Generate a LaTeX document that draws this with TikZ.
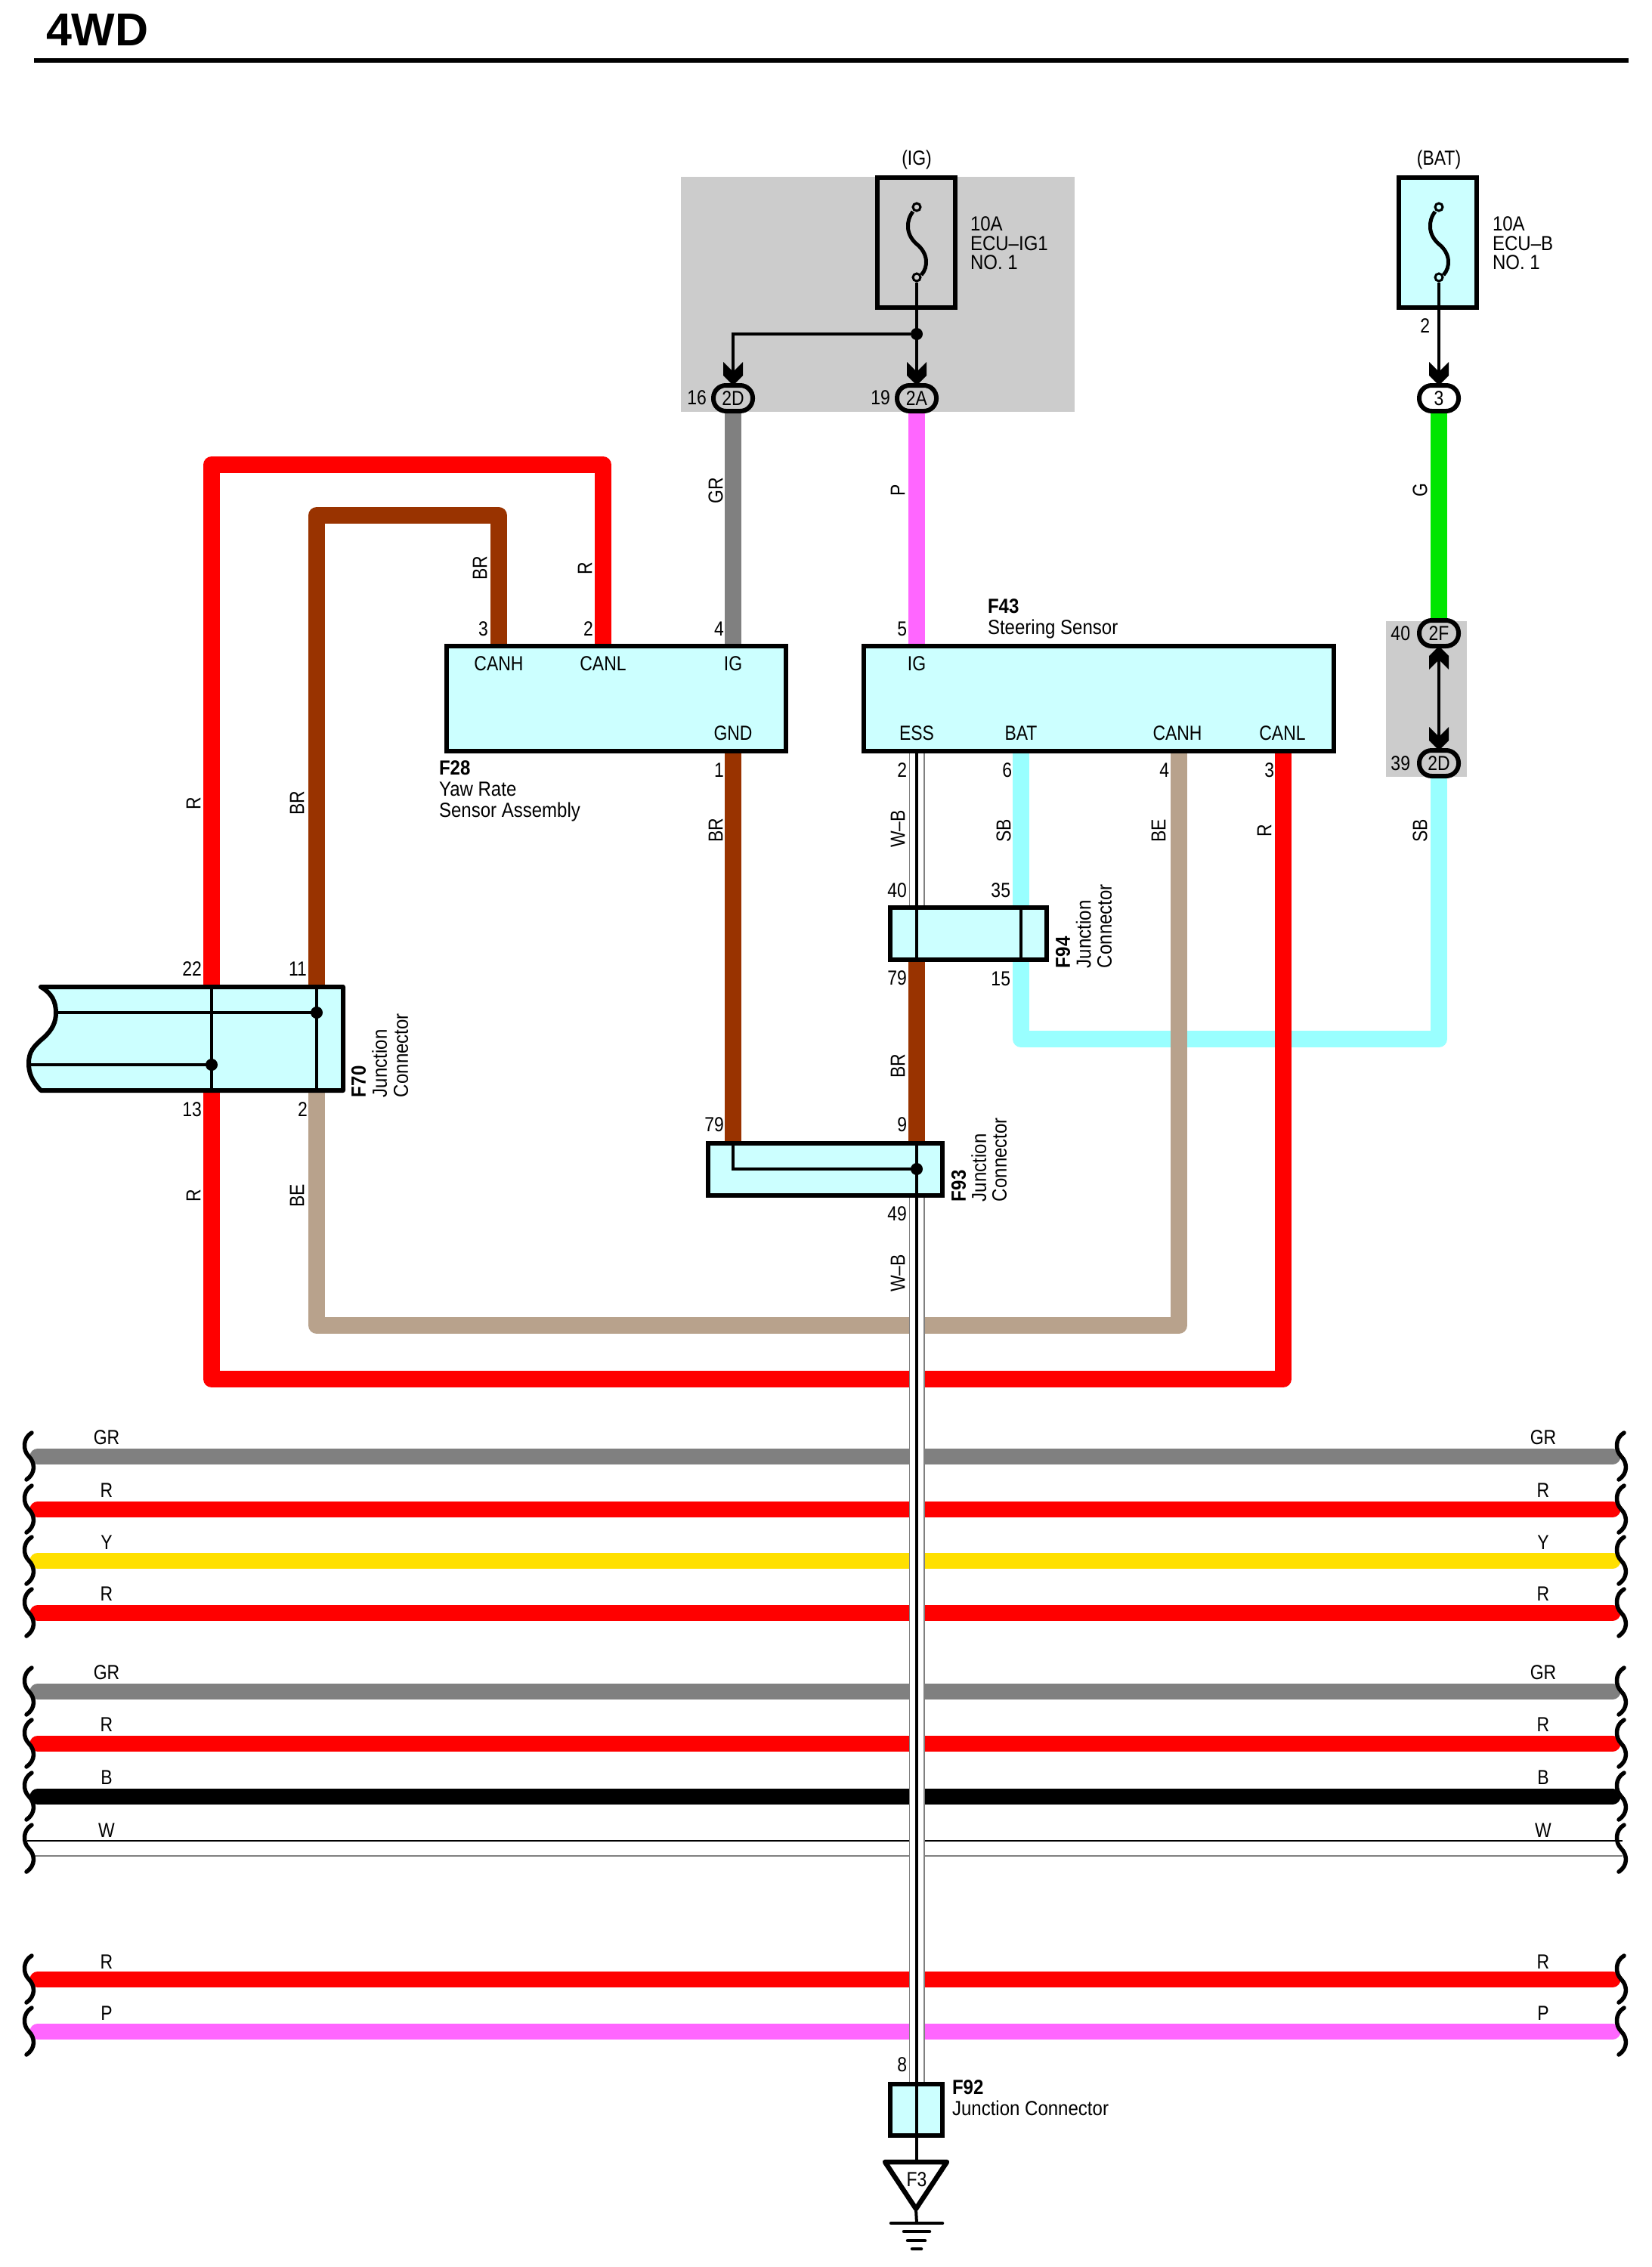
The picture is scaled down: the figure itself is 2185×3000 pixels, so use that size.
\documentclass[tikz,border=0pt]{standalone}
\usepackage{fontspec}
\setmainfont[FakeStretch=0.85]{Liberation Sans}
\newfontfamily\widef[FakeStretch=0.89]{Liberation Sans}
\newfontfamily\titlef{Liberation Sans}
\pgfdeclarelayer{bgl}\pgfdeclarelayer{wires}\pgfdeclarelayer{wb}
\pgfsetlayers{bgl,wires,wb,main}
\definecolor{wred}{HTML}{FF0000}
\definecolor{wbrn}{HTML}{993300}
\definecolor{wgry}{HTML}{808080}
\definecolor{wpnk}{HTML}{FF66FF}
\definecolor{wgrn}{HTML}{00E600}
\definecolor{wsky}{HTML}{99FFFF}
\definecolor{wyel}{HTML}{FFE000}
\definecolor{wtan}{HTML}{B8A28C}
\definecolor{wblk}{HTML}{000000}
\definecolor{boxc}{HTML}{CCFFFF}
\definecolor{greyb}{HTML}{CCCCCC}
\tikzset{
 txt/.style={font=\fontsize{27}{27}\selectfont,inner sep=0pt,outer sep=0pt},
 num/.style={txt,anchor=east},
 lab/.style={txt,rotate=90},
 multi/.style={txt,align=left,anchor=north west},
 comp/.style={txt,draw,line width=6pt,fill=boxc,rectangle,anchor=north west,inner sep=0pt},
 oval/.style={txt,draw,line width=6pt,fill=#1,rectangle,rounded corners=16.5pt,minimum width=52pt,minimum height=34pt},
 wire/.style={line width=22pt,line join=round},
 thin/.style={line width=4pt},
 dotj/.style={fill=black,circle,inner sep=0pt,minimum size=16pt},
 hollow/.style={draw,line width=3pt,circle,inner sep=0pt,minimum size=10pt},
 chev/.pic={\fill (-13,-31) -- (0,-18) -- (13,-31) -- (13,-13) -- (0,0) -- (-13,-13) -- cycle;},
 curly/.pic={\draw[line width=5.5pt,line cap=round] (4,-31) .. controls (-8,-24) and (-8,-8) .. (0,0) .. controls (9,9) and (9,23) .. (-3,31);},
 fusewire/.pic={\draw[line width=5pt] (-5,-41) .. controls (-15,-28) and (-14,-10) .. (0,2) .. controls (15,14) and (16,32) .. (6,43);}
}
\begin{document}
\begin{tikzpicture}[x=1pt,y=-1pt]
\useasboundingbox (0,0) rectangle (2185,3000);
% grey areas
\begin{pgfonlayer}{bgl}
\fill[white] (0,0) rectangle (2185,3000);
\fill[greyb] (901,234) rectangle (1422,545);
\fill[greyb] (1834,822) rectangle (1941,1028);
\end{pgfonlayer}
% title
\node[txt,anchor=west,font=\fontsize{61}{61}\titlef\bfseries] (title) at (61,40) {4WD};
\coordinate (rl) at (45,80); \coordinate (rr) at (2155,80);
\draw[line width=6pt] (rl) -- (rr);
% fuses
\node[comp,fill=none,minimum width=103pt,minimum height=172pt] (fig) at (1161,235) {};
\node[comp,minimum width=103pt,minimum height=172pt] (fbat) at (1851,235) {};
\node[txt] (tig) at (1213,212) {(IG)};
\node[txt] (tbat) at (1904,212) {(BAT)};
\node[hollow] (figa) at (1213,274) {};
\node[hollow] (figb) at (1213,367) {};
\node[hollow] (fbata) at (1904,274) {};
\node[hollow] (fbatb) at (1904,367) {};
\pic at (1213,321) {fusewire};
\pic at (1904,321) {fusewire};
\node[multi,font=\fontsize{27}{25.5}\widef] (lfig) at (1284,287) {10A\\ECU–IG1\\NO. 1};
\node[multi,font=\fontsize{27}{25.5}\widef] (lfbat) at (1975,287) {10A\\ECU–B\\NO. 1};
% ovals
\node[oval=greyb] (o2D) at (970,527) {2D};
\node[oval=greyb] (o2A) at (1213,527) {2A};
\node[oval=white] (o3) at (1904,527) {3};
\node[oval=greyb] (o2F) at (1904,838) {2F};
\node[oval=greyb] (o2d) at (1904,1010) {2D};
\node[num] (n16) at (935,526) {16};
\node[num] (n19) at (1178,526) {19};
\node[num] (n40) at (1866,838) {40};
\node[num] (n39) at (1866,1010) {39};
\node[num] (nb2) at (1892,431) {2};
% thin power lines
\node[dotj] (jig) at (1213,442) {};
\draw[thin] (figb) -- (o2A.north);
\draw[thin] (jig) -| (o2D.north);
\draw[thin] (fbatb) -- (o3.north);
\draw[thin] (o2F.south) -- (o2d.north);
\pic at (o2A.north) {chev};
\pic at (o2D.north) {chev};
\pic at (o3.north) {chev};
\pic at (o2d.north) {chev};
\pic[yscale=-1] at (o2F.south) {chev};
% components
\node[comp,minimum width=449pt,minimum height=139pt] (f28) at (591,855) {};
\node[comp,minimum width=622pt,minimum height=139pt] (f43) at (1143,855) {};
\node[comp,minimum width=207pt,minimum height=69pt] (f94) at (1178,1201) {};
\node[comp,minimum width=310pt,minimum height=69pt] (f93) at (937,1513) {};
\node[comp,minimum width=69pt,minimum height=68pt] (f92) at (1178,2758) {};
% F70
\draw[line width=6pt,fill=boxc,line join=round] (54,1306) -- (454,1306) -- (454,1443) -- (54,1443)
  .. controls (42,1430) and (38,1420) .. (38,1407)
  .. controls (38,1392) and (44,1385) .. (58,1373)
  .. controls (70,1362) and (74,1352) .. (74,1340)
  .. controls (74,1325) and (68,1314) .. (54,1306) -- cycle;
% pin coordinates
\coordinate (p22) at (280,1306); \coordinate (p13) at (280,1443);
\coordinate (p11) at (419,1306); \coordinate (p2) at (419,1443);
\coordinate (f28h) at (660,855); \coordinate (f28l) at (798,855);
\coordinate (f28i) at (970,855); \coordinate (f28g) at (970,994);
\coordinate (f43i) at (1213,855); \coordinate (f43e) at (1213,994);
\coordinate (f43b) at (1351,994); \coordinate (f43h) at (1560,994); \coordinate (f43l) at (1698,994);
\coordinate (f94a) at (1213,1201); \coordinate (f94b) at (1351,1201);
\coordinate (f94c) at (1213,1270); \coordinate (f94d) at (1351,1270);
\coordinate (f93a) at (970,1513); \coordinate (f93b) at (1213,1513);
\coordinate (f93c) at (1213,1582); \coordinate (f92a) at (1213,2758); \coordinate (f92b) at (1213,2826);
\coordinate (yred) at (0,615); \coordinate (ybrn) at (0,682);
\coordinate (ysky) at (0,1375); \coordinate (ytan) at (0,1754); \coordinate (yrb) at (0,1825);
\coordinate (jf70a) at (419,1340); \coordinate (jf70b) at (280,1409);
\coordinate (jf93) at (1213,1547);
% long wires
\begin{pgfonlayer}{wires}
\draw[wire,wgry] (o2D.south) -- (f28i);
\draw[wire,wpnk] (o2A.south) -- (f43i);
\draw[wire,wgrn] (o3.south) -- (o2F.north);
\draw[wire,wsky] (o2d.south) |- (ysky -| f94d) -- (f94d);
\draw[wire,wsky] (f43b) -- (f94b);
\draw[wire,wred] (p22) |- (yred -| f28l) -- (f28l);
\draw[wire,wbrn] (p11) |- (ybrn -| f28h) -- (f28h);
\draw[wire,wbrn] (f28g) -- (f93a);
\draw[wire,wbrn] (f94c) -- (f93b);
\draw[wire,wtan] (p2) |- (ytan -| f43h) -- (f43h);
\draw[wire,wred] (p13) |- (yrb -| f43l) -- (f43l);
\end{pgfonlayer}
% harness
\foreach \i/\y/\o/\c/\t in {1/1927/25/wgry/GR,2/1997/25/wred/R,3/2065/24/wyel/Y,4/2134/25/wred/R,5/2238/25/wgry/GR,6/2307/25/wred/R,7/2377/25/wblk/B,9/2619/23/wred/R,10/2688/24/wpnk/P}{
  \coordinate (hl\i) at (50,\y); \coordinate (hr\i) at (2134,\y);
  \begin{pgfonlayer}{wires}
  \draw[line width=21pt,line cap=round,\c] (hl\i) -- (hr\i);
  \end{pgfonlayer}
  \node[txt] (tl\i) at (141,\y-\o) {\t};
  \node[txt] (tr\i) at (2042,\y-\o) {\t};
  \pic at (38,\y) {curly};
  \pic at (2145,\y) {curly};
}
\coordinate (hl8a) at (36,2436); \coordinate (hr8a) at (2147,2436);
\coordinate (hl8b) at (42,2456); \coordinate (hr8b) at (2147,2456);
\begin{pgfonlayer}{wires}
\draw[line width=2pt] (hl8a) -- (hr8a);
\draw[line width=2pt,wgry] (hl8b) -- (hr8b);
\end{pgfonlayer}
\node[txt] (tl8) at (141,2422) {W};
\node[txt] (tr8) at (2042,2422) {W};
\pic at (38,2446) {curly};
\pic at (2145,2446) {curly};
% W-B wire
\begin{pgfonlayer}{wb}
\foreach \a/\b in {f43e/f94a,f93c/f92a}{
  \draw[line width=21pt,gray] (\a) -- (\b);
  \draw[line width=18.5pt,white] (\a) -- (\b);
  \draw[line width=4.5pt] (\a) -- (\b);
}
\end{pgfonlayer}
% internal lines
\draw[thin] (p22) -- (p13);
\draw[thin] (p11) -- (p2);
\coordinate (f70l1) at (74,1340); \coordinate (f70l2) at (38,1409);
\draw[thin] (f70l1) -- (jf70a);
\draw[thin] (f70l2) -- (jf70b);
\node[dotj] (d70a) at (jf70a) {};
\node[dotj] (d70b) at (jf70b) {};
\draw[thin] (f94a) -- (f94c);
\draw[thin] (f94b) -- (f94d);
\draw[thin] (f93b) -- (f93c);
\draw[thin] (f93a) |- (jf93);
\node[dotj] (d93) at (jf93) {};
\draw[thin] (f92a) -- (f92b);
% ground
\coordinate (ta) at (1171,2861); \coordinate (tb) at (1253,2861); \coordinate (tc) at (1212,2923);
\coordinate (tt) at (1213,2861); \coordinate (g0) at (1213,2942);
\draw[thin] (f92b) -- (tt);
\draw[line width=6.5pt,line join=round] (ta) -- (tb) -- (tc) -- cycle;
\draw[thin] (tc) -- (g0);
\draw[line width=4.5pt,line cap=round] (1179,2942) -- (1247,2942);
\draw[line width=4.5pt,line cap=round] (1196,2953) -- (1230,2953);
\draw[line width=4.5pt,line cap=round] (1201,2965) -- (1224,2965);
\draw[line width=4.5pt,line cap=round] (1207,2976) -- (1219,2976);
\node[txt] (tf3) at (1213,2884) {F3};
% component texts
\node[txt] at (660,878) {CANH};
\node[txt] at (798,878) {CANL};
\node[txt] at (970,878) {IG};
\node[txt] at (970,970) {GND};
\node[txt] at (1213,878) {IG};
\node[txt] at (1213,970) {ESS};
\node[txt] at (1351,970) {BAT};
\node[txt] at (1558,970) {CANH};
\node[txt] at (1697,970) {CANL};
\node[multi,font=\fontsize{27}{28}\widef] at (581,1007) {\textbf{F28}\\Yaw Rate\\Sensor Assembly};
\node[multi,font=\fontsize{27}{28}\widef] at (1307,793) {\textbf{F43}\\Steering Sensor};
\node[multi,font=\fontsize{27}{28}\widef] at (1260,2753) {\textbf{F92}\\Junction Connector};
\node[multi,rotate=90,font=\fontsize{27}{28}\widef] at (465,1452) {\textbf{F70}\\Junction\\Connector};
\node[multi,rotate=90,font=\fontsize{27}{27}\widef] at (1259,1590) {\textbf{F93}\\Junction\\Connector};
\node[multi,rotate=90,font=\fontsize{27}{27.5}\widef] at (1397,1281) {\textbf{F94}\\Junction\\Connector};
% pin numbers
\node[num] at (646,832) {3};
\node[num] at (785,832) {2};
\node[num] at (958,832) {4};
\node[num] at (958,1019) {1};
\node[num] at (1200,832) {5};
\node[num] at (1200,1019) {2};
\node[num] at (1339,1019) {6};
\node[num] at (1547,1019) {4};
\node[num] at (1686,1019) {3};
\node[num] at (1200,1178) {40};
\node[num] at (1337,1178) {35};
\node[num] at (1200,1294) {79};
\node[num] at (1337,1295) {15};
\node[num] at (958,1488) {79};
\node[num] at (1200,1488) {9};
\node[num] at (1200,1606) {49};
\node[num] at (1200,2732) {8};
\node[num] at (267,1282) {22};
\node[num] at (406,1282) {11};
\node[num] at (267,1468) {13};
\node[num] at (407,1468) {2};
% wire colour labels
\node[lab] at (774,752) {R};
\node[lab] at (635,752) {BR};
\node[lab] at (947,649) {GR};
\node[lab] at (1188,649) {P};
\node[lab] at (1879,649) {G};
\node[lab] at (256,1063) {R};
\node[lab] at (393,1063) {BR};
\node[lab] at (256,1582) {R};
\node[lab] at (393,1582) {BE};
\node[lab] at (947,1099) {BR};
\node[lab] at (1188,1097) {W–B};
\node[lab] at (1328,1099) {SB};
\node[lab] at (1533,1099) {BE};
\node[lab] at (1673,1099) {R};
\node[lab] at (1879,1099) {SB};
\node[lab] at (1188,1411) {BR};
\node[lab] at (1188,1685) {W–B};
\end{tikzpicture}
\end{document}
